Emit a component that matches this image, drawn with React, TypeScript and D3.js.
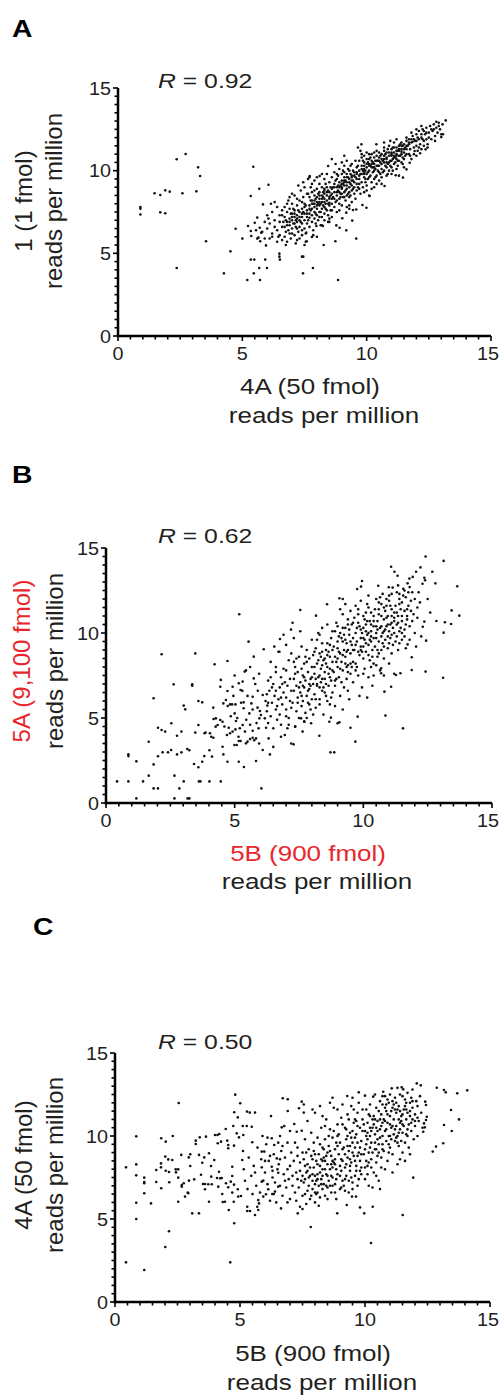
import React from 'react';
import * as d3 from 'd3';

// ---------- DATA ----------
const axisTicks = [0, 5, 10, 15];
const rValues = ['0.92', '0.62', '0.50'];
const panelLetters = ['A', 'B', 'C'];
const yTitles = ['1 (1 fmol)', '5A (9,100 fmol)', '4A (50 fmol)'];
const xTitles = ['4A (50 fmol)', '5B (900 fmol)', '5B (900 fmol)'];
const unitTitle = 'reads per million';

const pointsA: [number, number][] = [
[0.9,7.8],[0.9,7.7],[0.9,7.35],[1.47,8.63],[1.7,8.53],[1.9,8.81],[2.08,8.73],[1.7,7.48],[1.9,7.42],[2.36,10.69],[2.72,11.01],[2.59,8.63],[3.22,10.2],[3.3,9.68],[3.15,8.75],[2.36,4.11],[3.54,5.73],[4.26,3.79],[4.52,5.12],[4.73,6.49],[5.0,5.89],[5.2,3.39],[5.34,4.62],[5.48,4.62],[5.46,3.79],[5.68,4.11],[5.71,3.39],[5.92,4.62],[5.99,4.11],[5.44,10.24],[5.68,8.91],[6.05,9.15],[5.34,8.47],[5.83,7.96],[6.15,8.0],[6.49,4.98],[6.49,4.8],[6.51,4.62],[7.4,4.8],[7.45,4.8],[7.44,3.79],[7.59,5.73],[5.95,5.48],[5.72,5.73],[5.6,5.89],[9.58,5.89],[8.85,3.39],[8.74,5.73],[8.27,5.5],[7.84,4.11],[7.8,5.99],[8.0,6.0],[9.18,6.39],[9.42,6.98],[9.02,7.12],[9.45,7.62],[9.58,7.65],[9.83,7.92],[9.99,7.76],[8.78,6.69],[8.91,6.55],
[5.23,6.65],[5.34,6.35],[5.36,6.05],[5.5,6.85],[5.6,7.16],[5.7,6.55],[5.76,6.25],[5.55,6.4],[5.65,5.95],
[5.8,6.3],[5.9,6.9],[6.0,6.5],[6.0,7.3],[6.1,5.9],[6.1,6.8],[6.2,7.5],[6.2,6.2],[6.3,6.6],[6.3,7.0],[6.4,5.7],[6.4,6.4],[6.4,7.8],[6.5,6.9],[6.5,6.1],[6.5,7.3],[6.6,6.6],[6.6,5.8],[6.6,7.6],[6.2,6.0],[5.9,5.9],[6.3,8.1],[6.05,7.1],[6.45,6.0],
[6.7,6.0],[6.7,6.6],[6.7,7.2],[6.7,7.8],[6.75,6.3],[6.8,5.7],[6.8,6.9],[6.8,7.5],[6.85,8.2],[6.9,6.2],[6.9,6.7],[6.9,7.1],[6.9,7.7],[6.95,5.9],[7.0,6.5],[7.0,7.0],[7.0,7.4],[7.0,8.0],[7.05,6.8],[7.1,6.1],[7.1,7.2],[7.1,7.6],[7.1,8.5],[7.15,6.6],[7.2,5.8],[7.2,6.9],[7.2,7.3],[7.2,7.9],[7.25,6.3],[7.3,7.0],[7.3,7.5],[7.3,8.2],[7.3,6.6],[7.35,8.8],[7.4,6.1],[7.4,6.8],[7.4,7.2],[7.4,7.7],[7.45,8.4],[7.5,6.5],[7.5,7.0],[7.5,7.4],[7.5,8.0],[7.5,9.0],[7.55,5.7],[7.6,6.8],[7.6,7.6],[7.6,8.6],[7.6,7.2],[6.75,7.0],[6.85,6.4],[6.95,7.4],[7.05,7.7],[7.15,7.0],[7.25,7.6],[7.35,6.9],[7.45,7.5],[7.55,7.9],[6.65,6.9],[7.0,6.2],[7.2,6.5],[7.3,5.9],[7.4,6.4],[6.9,8.4],[7.1,6.8],[7.2,8.3],[7.4,8.1],[6.6,7.3],[6.8,8.0],[7.0,8.6],[7.25,9.1],[7.45,9.3],[7.55,6.2],[6.75,5.5],[7.15,5.6],[7.5,5.5],
[7.65,7.0],[7.7,6.6],[7.7,7.4],[7.7,7.9],[7.7,8.4],[7.75,9.0],[7.8,6.9],[7.8,7.3],[7.8,7.7],[7.8,8.2],[7.8,8.7],[7.85,6.4],[7.9,7.1],[7.9,7.5],[7.9,8.0],[7.9,8.5],[7.9,9.4],[7.95,6.8],[8.0,7.3],[8.0,7.7],[8.0,8.1],[8.0,8.4],[8.0,8.9],[8.05,7.0],[8.1,7.5],[8.1,7.9],[8.1,8.3],[8.1,8.7],[8.1,9.2],[8.15,6.7],[8.2,7.2],[8.2,7.7],[8.2,8.1],[8.2,8.5],[8.2,9.0],[8.25,7.9],[8.3,7.4],[8.3,8.3],[8.3,8.8],[8.3,9.5],[8.3,7.0],[8.35,8.0],[8.4,7.6],[8.4,8.5],[8.4,9.0],[8.4,8.2],[8.45,7.3],[8.5,7.9],[8.5,8.7],[8.5,9.3],[8.5,8.3],[8.55,7.6],[8.6,8.0],[8.6,8.9],[8.6,9.6],[8.6,7.2],[7.75,7.6],[7.85,8.0],[7.95,8.3],[8.05,8.6],[8.15,8.0],[8.25,8.7],[8.35,7.7],[8.45,8.0],[8.55,8.5],[7.7,7.15],[7.9,7.8],[8.1,7.2],[8.3,7.8],[8.5,7.1],[7.8,9.2],[8.0,9.6],[8.2,9.8],[8.4,9.8],[7.75,8.2],[8.05,8.0],[8.25,8.4],[8.45,8.8],[7.65,8.6],[7.95,7.4],[8.15,7.5],[8.35,9.2],[8.55,9.0],[7.7,9.6],[7.85,6.1],[8.2,6.7],[8.45,6.9],[8.6,8.3],[7.9,8.8],[8.1,8.5],[8.3,8.1],[8.5,8.05],
[8.65,8.4],[8.7,7.8],[8.7,8.7],[8.7,9.2],[8.7,9.9],[8.75,8.1],[8.8,7.5],[8.8,8.5],[8.8,9.0],[8.8,9.5],[8.85,8.8],[8.9,8.0],[8.9,8.3],[8.9,9.3],[8.9,10.1],[8.95,8.6],[9.0,7.9],[9.0,8.9],[9.0,9.4],[9.0,9.8],[9.05,8.4],[9.1,8.7],[9.1,9.1],[9.1,9.6],[9.1,10.3],[9.15,8.2],[9.2,8.9],[9.2,9.3],[9.2,9.8],[9.2,7.8],[9.25,8.6],[9.3,9.0],[9.3,9.5],[9.3,10.0],[9.3,8.4],[9.35,9.2],[9.4,8.8],[9.4,9.7],[9.4,10.4],[9.4,8.1],[9.45,9.4],[9.5,9.0],[9.5,9.9],[9.5,8.6],[9.55,9.6],[9.6,10.2],[9.6,9.2],[9.6,8.8],[8.75,9.4],[8.85,9.7],[8.95,9.1],[9.05,10.0],[9.15,9.4],[9.25,10.1],[9.35,9.8],[9.45,10.0],[9.55,10.6],[8.7,8.3],[8.9,8.7],[9.1,8.4],[9.3,8.7],[9.5,9.3],[8.8,8.2],[9.0,8.6],[9.2,9.1],[9.4,9.1],[9.6,9.5],[8.65,9.0],[8.85,9.1],[9.05,9.2],[9.25,9.6],[9.45,8.9],[8.75,10.4],[9.0,10.5],[9.2,10.6],[8.6,7.6],[8.9,7.6],[9.3,7.9],[9.55,8.3],[8.8,9.8],[9.1,9.9],[9.35,10.3],[9.6,9.8],[9.0,9.0],[9.2,8.5],[9.4,9.4],[8.95,8.4],[9.15,8.8],[9.35,8.5],
[9.65,9.0],[9.7,9.5],[9.7,10.0],[9.7,10.6],[9.75,8.6],[9.8,9.3],[9.8,9.8],[9.8,10.3],[9.8,11.0],[9.85,9.0],[9.9,9.6],[9.9,10.1],[9.9,10.5],[9.9,8.7],[9.95,9.3],[10.0,9.8],[10.0,10.2],[10.0,10.7],[10.0,9.1],[10.05,9.5],[10.1,10.0],[10.1,10.4],[10.1,11.0],[10.1,8.5],[10.15,9.7],[10.2,9.3],[10.2,10.2],[10.2,10.6],[10.25,9.9],[10.3,9.5],[10.3,10.4],[10.3,10.8],[10.3,9.0],[10.35,10.1],[10.4,9.7],[10.4,10.6],[10.4,11.2],[10.45,10.3],[10.5,9.9],[10.5,10.8],[10.5,9.4],[10.55,10.5],[10.6,10.1],[10.6,11.0],[10.6,9.6],[9.75,9.8],[9.85,10.6],[9.95,10.0],[10.05,10.5],[10.15,10.3],[10.25,10.5],[10.35,9.6],[10.45,10.0],[10.55,10.9],[9.7,9.2],[9.9,9.9],[10.1,9.6],[10.3,10.0],[10.5,10.3],[9.8,10.8],[10.0,11.1],[10.2,11.0],[10.4,10.9],[10.6,10.4],[9.65,10.3],[9.95,9.5],[10.15,10.8],[10.35,10.6],[10.55,9.8],[9.75,11.2],[10.0,8.8],[10.2,8.9],[10.4,9.2],[10.6,9.2],[9.85,10.0],[10.05,9.9],[10.25,10.2],[10.45,10.6],[9.7,8.9],[9.9,10.9],[10.1,10.7],[10.3,11.1],[10.5,11.1],
[10.65,10.6],[10.7,10.0],[10.7,10.9],[10.7,11.4],[10.75,10.3],[10.8,9.7],[10.8,10.7],[10.8,11.1],[10.85,10.4],[10.9,10.0],[10.9,10.9],[10.9,11.5],[10.95,10.6],[11.0,10.2],[11.0,11.0],[11.0,11.3],[11.0,9.8],[11.05,10.7],[11.1,10.4],[11.1,11.1],[11.1,11.7],[11.15,10.8],[11.2,10.1],[11.2,11.0],[11.2,11.4],[11.25,10.6],[11.3,10.9],[11.3,11.2],[11.3,9.7],[11.35,11.6],[11.4,10.5],[11.4,11.0],[11.4,11.3],[11.45,10.8],[11.5,11.1],[11.5,11.6],[11.5,10.2],[11.55,10.9],[11.6,11.3],[11.6,11.8],[10.75,11.0],[10.85,11.3],[10.95,10.3],[11.05,11.4],[11.15,10.5],[11.25,11.2],[11.35,10.9],[11.45,11.5],[11.55,11.4],[10.7,10.5],[10.9,10.5],[11.1,10.8],[11.3,10.6],[11.5,10.7],[10.8,10.2],[11.0,10.6],[11.2,10.7],[11.4,11.7],[11.6,11.0],[10.65,9.9],[10.85,9.8],[11.05,10.0],[11.25,10.3],[11.45,10.4],[10.7,11.7],[10.95,11.8],[11.2,11.9],[11.6,12.0],[11.1,11.4],[11.3,11.5],[10.8,10.8],[11.0,10.9],[11.2,11.2],[11.4,11.15],
[10.72,9.07],[11.17,9.72],[11.46,9.58],[11.73,10.48],[11.6,10.08],
[11.65,11.5],[11.7,11.0],[11.7,11.9],[11.75,11.3],[11.8,11.7],[11.8,10.7],[11.85,12.1],[11.9,11.4],[11.9,11.0],[11.95,11.8],[12.0,11.5],[12.0,12.2],[12.05,11.2],[12.1,11.9],[12.1,12.4],[12.15,11.6],[12.2,11.3],[12.2,12.0],[12.25,12.5],[12.3,11.8],[12.3,11.5],[12.35,12.2],[12.4,11.9],[12.4,12.6],[12.45,11.6],[12.5,12.3],[12.5,12.0],[12.55,12.7],[12.6,11.9],[11.7,11.6],[11.9,11.9],[12.1,11.4],[12.3,12.4],[11.8,12.3],[12.0,12.5],[12.2,12.7],[11.75,10.9],[12.0,10.9],[12.37,11.29],[11.93,11.19],[12.15,11.05],[12.45,11.4],[11.85,11.75],[12.05,12.0],[12.25,11.9],
[12.65,12.4],[12.7,12.8],[12.75,12.1],[12.8,12.6],[12.8,12.96],[12.85,12.3],[12.9,12.9],[12.95,12.5],[13.0,12.2],[13.07,12.2],[13.0,12.03],[13.18,13.04],[12.7,12.5],[12.6,12.5],[12.9,12.7],[13.05,12.8],[12.75,11.8],
[9.79,11.6],[9.65,11.4],[10.39,11.6],[7.71,9.68],[7.64,9.5],[8.11,9.68],[8.45,10.28],[9.1,10.9],[8.6,10.7],
[10.12,8.47],[8.24,6.65],[7.57,6.25],[7.98,6.65],[9.18,7.46],[9.3,7.7],[8.5,6.9],
[7.0,7.2],[7.2,7.1],[7.4,7.4],[7.6,7.4],[7.8,8.0],[8.0,7.9],[8.2,8.3],[8.4,8.7],[8.6,8.6],[8.8,8.7],[9.0,9.2],[9.2,9.6],[9.4,9.6],[9.6,9.9],[9.8,10.1],[10.0,10.4],[10.2,10.4],[10.4,10.3],[10.6,10.7],[10.8,10.5],[11.0,11.1],[11.2,10.9],[11.4,11.5],[11.6,11.5],[11.8,11.9],[12.0,11.8],[12.2,12.2],[12.4,12.3],[6.8,6.7],[7.1,7.4],[7.3,7.2],[7.7,7.7],[7.9,8.2],[8.1,8.1],[8.3,8.6],[8.5,8.4],[8.7,9.0],[8.9,9.0],[9.1,9.3],[9.3,9.3],[9.5,9.7],[9.7,9.7],[9.9,10.3],[10.1,10.3],[10.3,10.2],[10.5,10.6],[10.7,10.7],[10.9,11.1],[11.1,10.9],[11.3,11.3],[11.5,11.3],[11.7,11.7],[6.9,6.9],[7.5,7.8],[8.3,8.9],[9.1,9.4],[9.9,9.8],[10.7,11.2]
];

const pointsB: [number, number][] = [
[0.43,1.27],[0.87,1.27],[0.87,2.86],[0.87,2.76],[1.18,2.45],[1.18,0.27],[1.44,1.27],[1.66,1.61],[1.66,3.6],[1.85,2.27],[1.85,0.86],[2.02,0.86],[1.85,6.16],[2.02,2.75],[2.02,4.43],[2.16,4.29],[2.3,4.2],[2.16,8.75],[2.2,2.98],[2.41,2.98],[2.53,3.12],[2.54,4.69],[2.63,6.98],[2.66,1.61],[2.66,0.27],[2.76,3.96],[2.76,2.86],[2.85,0.86],[2.93,4.2],[2.93,2.98],[3.02,5.73],[3.08,5.51],[3.02,1.27],[3.16,3.18],[3.24,3.1],[3.17,0.27],[3.24,0.27],[3.35,6.98],[3.35,6.9],[3.42,2.29],[3.59,2.1],[3.47,8.8],[3.47,4.14],[3.59,4.59],[3.59,6.0],[3.74,5.92],[3.61,1.27],[3.67,1.27],[3.74,2.43],[3.82,2.76],[3.83,4.1],[3.87,4.14],[4.04,4.1],[4.02,3.1],[4.12,2.73],[4.02,1.27],[4.09,3.9],[4.17,3.84],[4.26,4.49],
[4.17,5.61],[4.22,8.16],[4.18,4.94],[4.27,4.98],[4.34,4.59],[4.44,4.88],[4.53,4.78],[4.46,1.27],[4.46,7.24],[4.44,6.84],[4.56,5.86],[4.66,6.06],[4.73,5.71],[4.82,5.8],[4.9,5.8],[4.53,3.31],[4.56,2.86],[4.72,8.35],[4.72,6.59],[4.72,2.43],[4.77,4.43],[4.82,4.1],[4.92,4.2],[5.03,4.33],[4.92,6.84],[5.03,5.8],[5.0,5.27],[5.05,4.82],[4.99,3.41],[5.08,3.41],[5.16,3.65],[5.23,3.65],[5.16,2.43],[5.18,11.1],[5.16,7.04],[5.31,7.14],[5.23,6.65],[5.39,7.73],[5.44,7.8],[5.31,4.59],[5.35,5.92],[5.35,5.57],[5.36,2.12],[5.44,3.51],[5.5,3.61],[5.6,3.76],[5.7,3.84],[5.54,9.49],[5.57,5.27],[5.65,5.86],[5.7,6.25],[5.74,7.33],[5.74,8.61],[5.76,3.69],[5.83,3.8],[5.93,4.39],[5.96,4.98],[5.83,2.47],[5.89,5.61],[5.98,5.41],[6.02,5.18],[6.09,6.35],[6.04,0.86],[6.09,3.12],[6.17,4.98],[6.22,4.43],[6.27,5.73],[6.32,3.8],[6.37,2.86],[6.13,9.04],
[4.6,4.5],[4.85,5.1],[5.1,5.0],[5.2,4.4],[5.45,4.9],[5.6,4.6],[5.7,5.5],[5.85,4.7],[5.9,6.6],[5.5,6.3],[5.25,5.9],[4.95,6.3],[5.8,7.0],[5.6,8.0],[5.95,7.6],[5.4,4.2],[5.15,3.9],[4.7,4.0],[5.7,4.25],[5.95,3.5],[5.0,7.5],[5.3,6.6],
[6.2,6.0],[6.25,5.4],[6.3,7.2],[6.3,4.7],[6.35,6.6],[6.4,5.1],[6.4,8.3],[6.45,5.9],[6.5,4.4],[6.5,7.0],[6.55,6.3],[6.6,5.5],[6.6,7.7],[6.65,4.9],[6.7,6.1],[6.7,8.9],[6.75,6.8],[6.75,5.2],[6.8,7.4],[6.8,4.6],[6.85,5.8],[6.9,6.5],[6.9,9.9],[6.95,7.1],[6.95,4.0],[7.0,5.5],[7.0,6.2],[7.0,7.8],[7.05,6.9],[7.1,5.0],[7.1,8.4],[7.15,6.0],[7.15,7.3],[7.2,5.6],[7.2,6.6],[7.25,10.6],[7.19,10.2],[6.76,9.65],[6.54,9.2],[6.74,8.9],[7.2,3.5],[6.8,3.9],[6.5,3.3],[7.05,4.4],[6.6,8.0],[6.3,5.9],[6.45,6.8],[6.85,7.0],[7.1,4.6],[6.25,6.4],[6.65,5.7],[7.0,9.3],[7.2,8.8],
[7.25,5.9],[7.3,6.6],[7.3,7.3],[7.35,4.5],[7.35,8.0],[7.4,5.4],[7.4,6.9],[7.45,6.2],[7.45,7.7],[7.5,5.0],[7.5,8.6],[7.55,6.5],[7.55,7.1],[7.6,5.7],[7.6,9.2],[7.65,6.0],[7.65,7.5],[7.7,6.8],[7.7,8.2],[7.7,4.8],[7.75,5.3],[7.75,7.2],[7.8,6.3],[7.8,9.0],[7.85,7.7],[7.85,5.9],[7.9,6.7],[7.9,8.5],[7.95,5.5],[7.95,7.3],[8.0,6.1],[8.0,8.0],[8.0,9.6],[7.3,9.7],[7.55,10.1],[7.55,11.35],[7.4,8.5],[7.6,7.9],[7.8,5.0],[7.45,5.9],[7.65,6.9],[7.85,6.6],[7.35,7.6],[7.75,8.6],[7.95,6.9],[7.58,4.98],[7.71,4.78],[7.64,4.2],[7.35,4.49],[7.97,4.69],[7.29,3.45],[7.5,6.8],[7.7,7.4],
[8.05,7.0],[8.05,8.7],[8.1,6.4],[8.1,7.6],[8.15,5.6],[8.15,9.1],[8.16,11.02],[8.2,6.9],[8.2,8.2],[8.25,7.4],[8.25,10.0],[8.3,6.1],[8.3,8.8],[8.35,7.1],[8.35,7.9],[8.4,6.6],[8.4,9.4],[8.45,5.2],[8.45,8.4],[8.5,7.3],[8.5,7.7],[8.55,6.3],[8.55,9.0],[8.6,8.0],[8.6,10.5],[8.59,11.69],[8.65,6.9],[8.65,7.6],[8.7,8.6],[8.7,5.8],[8.75,9.7],[8.75,7.2],[8.8,6.5],[8.8,8.3],[8.1,8.0],[8.3,7.5],[8.5,8.5],[8.7,7.9],[8.2,9.6],[8.4,10.3],[8.6,9.4],[8.8,10.1],[8.15,6.1],[8.45,6.8],[8.75,6.2],[8.29,3.96],[8.72,2.98],[8.87,2.98],[8.74,5.02],[8.68,4.78],[8.35,8.6],[8.55,7.0],[8.25,8.4],[8.65,8.9],[8.4,7.3],[8.05,5.2],
[8.85,7.7],[8.85,9.2],[8.9,8.6],[8.9,6.9],[8.95,10.6],[9.0,8.0],[9.0,9.5],[9.0,4.69],[9.05,7.4],[9.05,8.9],[9.07,12.04],[9.07,4.75],[9.1,10.0],[9.1,6.3],[9.15,8.3],[9.15,9.7],[9.2,7.8],[9.2,12.0],[9.2,11.1],[9.25,9.0],[9.25,6.8],[9.3,8.6],[9.3,10.3],[9.35,7.3],[9.35,9.4],[9.4,8.1],[9.4,10.8],[9.45,9.9],[9.45,6.1],[9.5,8.8],[9.5,7.6],[9.5,4.43],[9.55,9.3],[9.55,10.5],[9.6,8.3],[9.6,7.1],[8.9,10.1],[9.1,11.4],[9.3,11.7],[9.5,11.3],[9.0,8.5],[9.2,8.7],[9.4,9.0],[9.6,9.7],[8.95,7.3],[9.15,7.1],[9.35,8.0],[9.55,8.0],[9.25,9.9],[9.45,10.2],[9.05,9.8],[9.3,9.6],[8.9,5.7],[9.2,5.5],[9.69,3.61],[9.4,6.6],
[9.65,9.0],[9.65,10.9],[9.7,8.2],[9.7,10.0],[9.76,12.59],[9.75,9.5],[9.78,5.08],[9.8,7.5],[9.8,11.4],[9.85,8.7],[9.85,10.4],[9.9,9.2],[9.91,12.73],[9.95,13.06],[9.95,10.0],[9.95,6.8],[10.0,8.5],[10.0,11.0],[10.05,9.6],[10.05,7.9],[10.1,10.5],[10.1,8.9],[10.15,11.7],[10.15,9.9],[10.2,7.4],[10.2,9.3],[10.25,10.7],[10.25,8.4],[10.3,10.1],[10.3,11.2],[10.35,9.0],[10.35,6.9],[10.4,9.7],[10.4,10.4],[9.7,9.3],[9.9,9.7],[10.1,10.1],[10.3,9.5],[9.8,10.6],[10.0,10.3],[10.2,10.0],[10.4,11.0],[9.75,8.0],[10.0,9.2],[10.25,9.6],[9.9,11.9],[10.2,12.2],[9.85,6.3],[10.15,6.2],[10.4,8.2],[9.7,11.6],[10.05,10.8],[10.3,10.5],[9.95,8.9],[10.1,9.4],[10.35,8.6],
[10.45,9.2],[10.45,11.4],[10.5,10.0],[10.5,12.0],[10.55,8.6],[10.55,10.7],[10.58,12.78],[10.6,9.5],[10.6,11.1],[10.65,7.8],[10.65,10.3],[10.69,7.92],[10.69,7.63],[10.7,11.7],[10.7,9.0],[10.75,10.0],[10.75,12.3],[10.8,10.8],[10.8,8.5],[10.82,6.55],[10.85,9.6],[10.85,11.3],[10.86,5.14],[10.9,10.4],[10.9,12.0],[10.95,9.1],[10.95,11.0],[10.99,12.69],[11.0,10.1],[11.0,8.2],[11.05,11.6],[11.05,9.7],[11.08,13.9],[11.08,6.84],[11.1,10.6],[11.1,12.3],[11.14,12.67],[11.15,9.3],[11.2,11.2],[11.2,10.0],[10.5,9.7],[10.7,10.4],[10.9,10.9],[11.1,11.0],[10.6,11.8],[10.8,11.5],[11.0,11.9],[10.55,9.0],[10.75,9.4],[10.95,9.8],[11.15,10.3],[10.65,12.1],[10.85,10.2],[11.05,10.5],[10.5,8.1],[10.8,7.5],[11.1,8.8],[11.2,7.6],
[11.21,13.6],[11.25,9.5],[11.25,11.6],[11.27,7.53],[11.3,10.5],[11.3,12.4],[11.33,13.37],[11.35,9.0],[11.35,11.0],[11.4,10.1],[11.4,12.0],[11.44,7.63],[11.45,11.4],[11.5,9.6],[11.5,10.7],[11.54,4.39],[11.55,12.6],[11.6,10.2],[11.6,11.3],[11.65,9.1],[11.65,12.1],[11.7,10.8],[11.72,9.33],[11.72,12.92],[11.75,11.6],[11.79,13.2],[11.8,10.4],[11.85,11.9],[11.88,8.57],[11.88,7.82],[11.9,12.4],[11.92,13.3],[11.95,11.1],[12.0,10.0],[12.0,12.0],[11.3,11.2],[11.5,11.8],[11.7,11.4],[11.9,10.7],[11.4,9.4],[11.6,9.8],[11.8,9.6],[11.35,12.8],[11.55,12.2],[11.75,12.4],[11.45,10.3],[11.65,10.5],[11.85,11.3],
[12.05,13.6],[12.1,11.5],[12.15,12.4],[12.22,13.86],[12.3,12.9],[12.31,10.37],[12.37,10.67],[12.37,13.25],[12.4,13.1],[12.42,14.5],[12.42,7.73],[12.44,9.55],[12.68,13.6],[12.8,12.92],[12.84,10.71],[13.1,7.37],[13.12,14.24],[13.12,10.02],[13.17,10.63],[13.41,10.53],[13.43,11.33],[13.65,12.75],[13.73,11.02],[12.1,10.9],[12.2,11.8],[12.25,9.8],[12.5,12.0],[12.05,9.2],[12.6,11.2],
[8.0,7.4],[8.1,8.9],[8.2,7.0],[8.3,9.9],[8.4,8.1],[8.5,6.5],[8.6,8.7],[8.7,7.4],[8.8,9.0],[8.9,7.2],[9.0,9.1],[9.1,7.9],[9.2,10.3],[9.3,8.2],[9.4,7.7],[9.5,9.5],[9.6,10.6],[9.7,7.8],[9.8,8.9],[9.9,10.2],[10.0,7.6],[10.1,11.2],[10.2,8.7],[10.3,9.8],[10.4,7.5],[10.5,10.4],[10.6,8.8],[10.7,11.0],[10.8,9.2],[10.9,11.6],[11.0,9.4],[11.1,11.4],[11.2,10.7],[11.3,9.8],[11.4,11.7],[11.5,10.0],[11.6,12.5],[11.7,11.0],[11.8,12.7],[7.9,7.0],[8.3,6.8],[8.7,9.3],[9.1,8.8],[9.5,8.2],[9.9,9.0],[10.3,8.0],[10.7,9.8],[11.1,9.9],[11.5,11.0],[9.0,10.4],[9.4,10.5],[9.8,11.1],[10.2,11.5],[10.6,11.4],[11.0,12.2],[11.4,12.3],[8.4,8.9],[8.8,7.8],[9.2,9.5],[9.6,9.0],[10.0,9.7],[10.4,10.7],[10.8,10.1],[11.2,10.9],[7.8,8.3],[8.15,7.3],[8.55,8.2],[8.95,8.3],[9.35,8.9],[9.75,10.3],[10.15,10.7],[10.55,10.2],[10.95,10.5],[11.35,10.6],[7.6,6.3],[7.9,5.8],[8.3,5.8],[8.6,6.0],[6.9,7.9],[7.3,8.3],[6.6,6.6],[7.0,5.1],[6.4,7.4],[6.8,6.2]
];

const pointsC: [number, number][] = [
[0.44,8.11],[0.44,2.39],[0.85,9.98],[0.85,8.29],[0.85,7.63],[0.85,5.98],[0.85,5.0],[1.17,7.49],[1.17,7.23],[1.17,7.15],[1.17,6.55],[1.17,1.93],[1.44,5.94],[1.65,7.95],[1.65,7.23],[1.84,8.35],[1.84,8.11],[1.85,9.86],[1.85,6.85],[2.03,9.66],[2.01,8.76],[2.13,8.59],[2.29,8.55],[2.03,7.91],[2.16,7.83],[2.01,3.31],[2.17,7.21],[2.16,4.26],[2.31,10.0],[2.43,7.99],[2.53,7.99],[2.44,7.81],[2.53,7.49],[2.53,6.04],[2.55,11.99],[2.65,8.86],[2.67,7.05],[2.67,6.95],[2.75,7.15],[2.8,6.35],[2.91,6.59],[2.93,6.55],[2.95,8.71],[3.01,8.9],[3.01,8.19],[2.96,7.31],[3.09,5.34],[3.36,5.34],[3.17,7.39],[3.23,9.72],[3.23,9.52],[3.39,9.92],[3.36,8.86],[3.44,7.67],[3.49,8.39],[3.52,7.11],[3.6,7.11],[3.57,8.71],[3.64,9.96],[3.6,6.79],[3.73,7.09],[3.76,8.96],[3.76,6.04],[3.84,8.19],[3.85,7.55],[3.87,7.09],[3.97,8.55],[4.0,10.06],[4.1,10.06],[4.08,7.47],[4.11,9.56],[4.13,6.95],[4.21,7.45],[4.27,7.47],[4.16,7.85],[4.17,10.12],[4.24,9.66],[4.29,6.51],[4.31,6.02],[4.4,6.04],[4.43,10.42],[4.44,7.15],[4.53,6.91],[4.49,9.72],[4.53,9.46],[4.53,9.26],[4.55,5.54],[4.61,2.39],[4.63,7.25],[4.69,7.59],[4.69,8.15],[4.69,6.59],[4.76,7.07],[4.75,6.04],[4.73,10.6],[4.77,11.43],[4.76,9.42],[4.77,4.74],[4.81,12.49],[4.87,10.16],[4.91,11.12],[4.96,9.92],[4.91,6.79],[4.93,6.35],[5.01,11.97],[5.04,6.39],[5.09,8.55],[5.13,10.06],[5.11,10.6],[5.12,9.1],[5.27,10.6],[5.28,11.47],[5.39,11.41],[5.29,5.74],[5.29,5.48],[5.4,5.48],[5.47,10.56],[5.49,9.62],[5.6,11.41],[5.6,5.24],[5.69,5.74],[5.73,5.54],[5.73,6.14],[5.76,5.94],[5.87,9.06],[5.97,9.06],[5.87,8.11],[5.87,7.25],[5.93,7.31],[5.93,6.35],[6.04,6.49],[6.13,6.79],[6.24,11.2],[6.27,9.86],[6.37,9.46],[6.53,9.6],[6.27,8.15],[6.47,8.65],[6.53,7.79],[6.29,6.51],[6.4,6.65],[6.53,6.95],[6.64,5.64],[6.67,10.52],[6.77,10.6],[6.71,12.27],[6.91,12.21],[6.91,11.51],[7.17,10.72],[7.27,10.26],[7.47,10.32],[7.31,5.34],[7.36,11.67],[7.47,12.07],[7.55,11.41],[7.4,5.74],
[5.15,8.0],[5.2,7.3],[5.3,6.8],[5.35,8.7],[5.45,7.6],[5.5,6.5],[5.55,8.2],[5.65,7.0],[5.7,9.3],[5.8,6.6],[5.85,8.6],[6.0,7.8],[6.05,9.5],[6.1,7.1],[6.15,8.5],[6.2,6.1],[6.3,7.5],[6.35,8.9],[6.4,7.2],[6.45,6.0],[6.55,8.3],[6.6,7.0],[6.65,9.1],[6.7,6.4],[6.75,7.7],[6.8,8.7],[6.85,6.9],[6.9,9.6],[6.95,7.4],[7.0,8.2],[7.0,6.2],[7.05,9.0],[7.1,7.0],[7.15,8.5],[7.2,6.6],[7.25,7.8],[7.3,9.3],[7.35,6.9],[7.4,8.4],[7.45,7.3],[7.5,6.4],[7.5,9.0],[6.2,8.8],[6.5,8.0],[6.8,7.3],[7.1,7.6],[7.4,7.9],[6.35,6.5],[6.9,6.0],[7.25,6.1],[5.9,10.0],[6.6,10.0],[7.0,10.3],[7.3,8.8],[6.1,9.9],[6.7,9.4],
[7.55,7.2],[7.55,8.6],[7.6,6.5],[7.6,9.8],[7.65,7.8],[7.65,5.9],[7.7,8.3],[7.7,10.9],[7.75,7.0],[7.75,9.2],[7.8,6.2],[7.8,7.6],[7.83,4.52],[7.85,8.8],[7.85,10.2],[7.9,6.8],[7.9,7.3],[7.95,8.1],[7.95,9.6],[8.0,6.0],[8.0,7.1],[8.0,11.4],[8.05,8.5],[8.05,6.5],[8.1,7.7],[8.1,9.9],[8.15,7.0],[8.15,8.9],[8.2,6.3],[8.2,8.2],[8.25,7.4],[8.25,10.5],[8.3,6.8],[8.3,9.3],[7.6,7.4],[7.8,8.1],[8.0,7.6],[8.2,7.8],[7.7,6.7],[7.9,8.6],[8.1,6.6],[8.3,8.0],[7.65,9.0],[7.95,9.1],[8.25,8.6],[7.75,7.5],[8.05,7.3],[7.85,6.4],[8.15,5.8],[7.5,5.6],
[8.35,7.1],[8.35,8.7],[8.4,6.4],[8.4,9.8],[8.45,7.7],[8.45,11.0],[8.5,8.3],[8.5,6.9],[8.55,9.4],[8.55,7.3],[8.6,8.0],[8.6,10.4],[8.65,6.6],[8.65,8.8],[8.7,7.5],[8.7,9.9],[8.75,8.4],[8.75,11.7],[8.8,7.1],[8.8,9.2],[8.85,6.2],[8.85,8.0],[8.89,5.34],[8.9,10.7],[8.9,7.7],[8.95,8.9],[9.0,6.8],[9.0,9.6],[9.05,7.9],[9.05,11.1],[9.1,8.5],[9.1,7.3],[8.4,8.0],[8.6,7.0],[8.8,8.6],[9.0,8.2],[8.5,9.0],[8.7,8.1],[8.9,9.4],[8.45,7.0],[8.65,7.6],[8.85,7.4],[9.05,6.9],[8.55,10.0],[8.75,10.3],[8.95,10.1],[8.5,6.2],[8.8,6.6],[8.6,12.0],[8.9,11.6],[8.35,9.2],[8.7,8.5],
[9.15,9.3],[9.15,7.0],[9.2,8.1],[9.2,10.5],[9.25,7.6],[9.25,9.8],[9.27,5.84],[9.29,12.41],[9.3,8.7],[9.3,11.3],[9.35,6.6],[9.35,9.1],[9.4,7.9],[9.4,10.2],[9.45,8.4],[9.45,11.8],[9.48,6.35],[9.5,7.2],[9.5,9.6],[9.55,8.8],[9.55,10.8],[9.6,7.6],[9.6,9.3],[9.64,6.35],[9.65,10.1],[9.65,8.2],[9.7,11.4],[9.7,7.0],[9.75,9.0],[9.75,12.63],[9.8,8.5],[9.8,5.7],[9.8,10.5],[9.85,7.7],[9.85,9.7],[9.9,11.0],[9.2,8.9],[9.4,9.4],[9.6,8.5],[9.8,9.3],[9.3,10.0],[9.5,10.3],[9.7,10.6],[9.25,8.3],[9.45,7.5],[9.65,7.9],[9.85,8.1],[9.35,11.0],[9.55,11.6],[9.75,12.0],[9.2,6.7],[9.5,6.8],[9.4,8.6],[9.6,9.9],[9.7,8.8],
[9.95,8.9],[9.97,5.34],[10.0,10.3],[10.0,12.43],[10.0,7.4],[10.05,9.5],[10.05,11.6],[10.1,8.2],[10.1,10.8],[10.15,9.0],[10.15,7.0],[10.2,10.0],[10.2,11.9],[10.24,3.55],[10.25,8.6],[10.25,9.6],[10.3,10.5],[10.31,5.74],[10.33,12.37],[10.35,7.8],[10.35,11.2],[10.4,9.2],[10.4,10.1],[10.45,8.4],[10.45,11.7],[10.5,9.8],[10.5,10.9],[10.55,7.3],[10.55,9.0],[10.6,10.4],[10.6,12.1],[10.65,8.7],[10.65,11.3],[10.7,9.5],[10.7,10.8],[10.0,9.2],[10.2,9.3],[10.4,9.6],[10.6,9.9],[10.1,10.2],[10.3,11.0],[10.5,10.3],[10.7,10.0],[10.05,8.5],[10.25,8.1],[10.45,7.6],[10.65,8.1],[10.15,11.3],[10.35,10.7],[10.55,11.5],[10.7,11.9],[10.1,7.7],[10.3,6.9],[10.6,6.8],[9.95,10.7],[10.4,12.5],[10.2,10.5],[10.45,9.2],
[10.73,12.67],[10.75,9.1],[10.75,11.0],[10.8,10.3],[10.8,12.4],[10.85,9.7],[10.85,11.5],[10.9,8.5],[10.9,10.8],[10.95,10.0],[10.95,12.0],[11.0,11.2],[11.0,9.3],[11.05,10.5],[11.07,12.87],[11.1,11.7],[11.1,8.9],[11.15,10.1],[11.15,11.0],[11.2,9.7],[11.2,12.3],[11.25,10.6],[11.25,11.4],[11.3,8.3],[11.3,10.0],[11.35,11.8],[11.35,9.4],[11.4,10.8],[11.4,12.5],[11.45,11.2],[11.47,12.93],[11.5,10.2],[11.5,9.0],[10.8,11.7],[11.0,10.7],[11.2,10.4],[11.4,10.4],[10.9,11.3],[11.1,12.1],[11.3,11.6],[10.85,10.4],[11.05,9.8],[11.25,9.9],[11.45,9.7],[10.8,8.0],[11.1,7.8],[11.4,8.6],[11.0,12.5],[11.3,12.9],[10.95,9.0],[11.15,11.9],[11.35,11.0],
[11.51,5.24],[11.53,12.81],[11.55,11.6],[11.55,10.6],[11.6,9.6],[11.6,12.2],[11.65,11.0],[11.65,10.1],[11.7,12.6],[11.7,11.4],[11.75,9.3],[11.75,10.7],[11.8,12.0],[11.8,11.2],[11.85,10.3],[11.9,12.8],[11.9,11.7],[11.93,7.49],[11.95,9.8],[12.0,11.3],[12.0,10.6],[12.07,13.17],[12.05,12.1],[12.1,10.0],[12.1,11.8],[12.15,10.9],[12.23,13.05],[12.2,12.4],[12.25,11.4],[12.3,10.5],[11.6,8.5],[11.8,8.9],[11.5,11.3],[11.7,10.4],[11.9,11.0],[12.1,11.1],[11.65,12.0],[11.85,12.3],
[12.33,10.26],[12.36,10.76],[12.39,10.52],[12.41,12.07],[12.44,11.87],[12.44,10.96],[12.47,11.16],[12.71,9.06],[12.84,9.36],[12.87,12.91],[13.13,9.56],[13.16,12.77],[13.23,12.63],[13.16,10.66],[13.44,11.57],[13.47,10.3],[13.69,12.57],[13.76,11.0],[14.09,12.75],
[7.55,11.9],[7.9,11.6],[8.3,11.2],[8.7,12.3],[9.1,11.9],[9.5,12.3],
[8.0,8.9],[8.1,7.4],[8.2,9.5],[8.3,7.6],[8.4,8.5],[8.5,7.6],[8.6,9.1],[8.7,7.0],[8.8,8.3],[8.9,10.0],[9.0,7.6],[9.1,9.2],[9.2,7.4],[9.3,9.4],[9.4,8.2],[9.5,9.0],[9.6,11.0],[9.7,9.6],[9.8,7.9],[9.9,10.3],[10.0,8.1],[10.1,9.8],[10.2,11.2],[10.3,9.0],[10.4,11.0],[10.5,8.8],[10.6,11.0],[10.7,9.2],[10.8,10.9],[10.9,12.2],[11.0,10.0],[11.1,10.6],[11.2,11.6],[11.3,9.6],[11.4,11.5],[11.5,10.7],[11.6,11.8],[11.7,10.0],[11.8,11.5],[11.9,12.1],[12.0,10.9],[8.25,7.1],[8.65,8.3],[9.05,8.6],[9.45,9.9],[9.85,8.9],[10.25,10.3],[10.65,10.6],[11.05,11.5],[11.45,10.9],[11.85,10.8],[8.45,8.8],[8.85,9.6],[9.25,10.4],[9.65,10.9],[10.05,10.0],[10.45,10.5],[10.85,11.9],[11.25,12.0],[11.65,11.6],[7.7,7.9],[7.9,7.7],[8.1,8.3],[8.3,8.5],[7.6,8.2],[8.0,6.6],[9.35,7.3],[9.75,7.4],[10.15,8.4],[10.55,9.5],[10.95,9.5],[11.35,10.2],[9.1,10.7],[9.9,11.6],[10.7,12.4],[11.5,12.4],[7.3,7.4],[6.9,8.0],[6.6,8.6],[7.2,9.6],[6.0,8.5],[5.6,7.8],[6.3,7.9],[7.5,7.6],[8.4,10.6],[8.2,11.8]
];

const allPoints = [pointsA, pointsB, pointsC];

// ---------- LAYOUT ----------
const FONT = 'Liberation Sans, Arial, Helvetica, sans-serif';
const INK = '#231f20';
const RED = '#e8262d';
const SX = 1.18;

const layout = [
  { left: 118, right: 491, top: 88, bottom: 336, letter: [12, 37], rPos: [158, 88], yT1x: 32, yT2x: 62, yTcy: 201, xT1: [310, 394], xT2: [324, 423], red: false },
  { left: 106, right: 492, top: 548, bottom: 803, letter: [12, 483], rPos: [158, 543], yT1x: 30, yT2x: 63, yTcy: 661, xT1: [308, 861], xT2: [317, 889], red: true },
  { left: 115, right: 490, top: 1053, bottom: 1302, letter: [33, 935], rPos: [158, 1049], yT1x: 32, yT2x: 63, yTcy: 1165, xT1: [313, 1361], xT2: [322, 1390], red: false },
];

function HText(props: { x: number; y: number; size: number; anchor?: string; fill?: string; weight?: string; sx?: number; children: React.ReactNode }) {
  const { x, y, size, anchor = 'start', fill = INK, weight = 'normal', sx = SX, children } = props;
  return (
    <text transform={`translate(${x},${y}) scale(${sx},1)`} fontSize={size} fontFamily={FONT} textAnchor={anchor} fill={fill} fontWeight={weight}>
      {children}
    </text>
  );
}

function Panel({ i }: { i: number }) {
  const L = layout[i];
  const pts = allPoints[i];
  const x = d3.scaleLinear().domain([0, 15]).range([L.left, L.right]);
  const y = d3.scaleLinear().domain([0, 15]).range([L.bottom, L.top]);
  const minor = d3.range(0, 15.001, 0.5);
  return (
    <g>
      <HText x={L.letter[0]} y={L.letter[1]} size={24} weight="bold" fill="#000">{panelLetters[i]}</HText>
      <text transform={`translate(${L.rPos[0]},${L.rPos[1]}) scale(${SX},1)`} fontSize={21} fontFamily={FONT} fill={INK}>
        <tspan fontStyle="italic">R</tspan> = {rValues[i]}
      </text>
      {pts.map((p, k) => (
        <circle key={k} cx={x(p[0])} cy={y(p[1])} r={1.3} fill="#111" />
      ))}
      {minor.map((v, k) => (
        <g key={'m' + k}>
          <line x1={x(v)} x2={x(v)} y1={L.bottom} y2={L.bottom + (v % 5 === 0 ? 5 : 3.5)} stroke="#000" strokeWidth={1.6} />
          <line x1={L.left} x2={L.left - (v % 5 === 0 ? 5 : 3.5)} y1={y(v)} y2={y(v)} stroke="#000" strokeWidth={1.6} />
        </g>
      ))}
      <line x1={L.left} x2={L.left} y1={L.top} y2={L.bottom + 1.2} stroke="#000" strokeWidth={2.5} />
      <line x1={L.left - 1.2} x2={L.right} y1={L.bottom} y2={L.bottom} stroke="#000" strokeWidth={2.5} />
      {axisTicks.map((t) => (
        <HText key={'xt' + t} x={t === 15 ? Math.min(x(t), 488) : x(t)} y={L.bottom + 24} size={18} anchor="middle" sx={1.1}>{t}</HText>
      ))}
      {axisTicks.map((t) => (
        <HText key={'yt' + t} x={L.left - 7} y={y(t) + 6.5} size={18} anchor="end" sx={1.1}>{t}</HText>
      ))}
      <HText x={L.xT1[0]} y={L.xT1[1]} size={22} anchor="middle" fill={L.red ? RED : INK}>{xTitles[i]}</HText>
      <HText x={L.xT2[0]} y={L.xT2[1]} size={22} anchor="middle">{unitTitle}</HText>
      <text transform={`translate(${L.yT1x},${L.yTcy}) rotate(-90)`} fontSize={24} fontFamily={FONT} textAnchor="middle" fill={L.red ? RED : INK}>{yTitles[i]}</text>
      <text transform={`translate(${L.yT2x},${L.yTcy}) rotate(-90)`} fontSize={24} fontFamily={FONT} textAnchor="middle" fill={INK}>{unitTitle}</text>
    </g>
  );
}

export default function App() {
  return (
    <svg width={502} height={1397} style={{ position: 'absolute', left: 0, top: 0, background: '#fff' }}>
      <rect width={502} height={1397} fill="#fff" />
      {[0, 1, 2].map((i) => (
        <Panel key={i} i={i} />
      ))}
    </svg>
  );
}
